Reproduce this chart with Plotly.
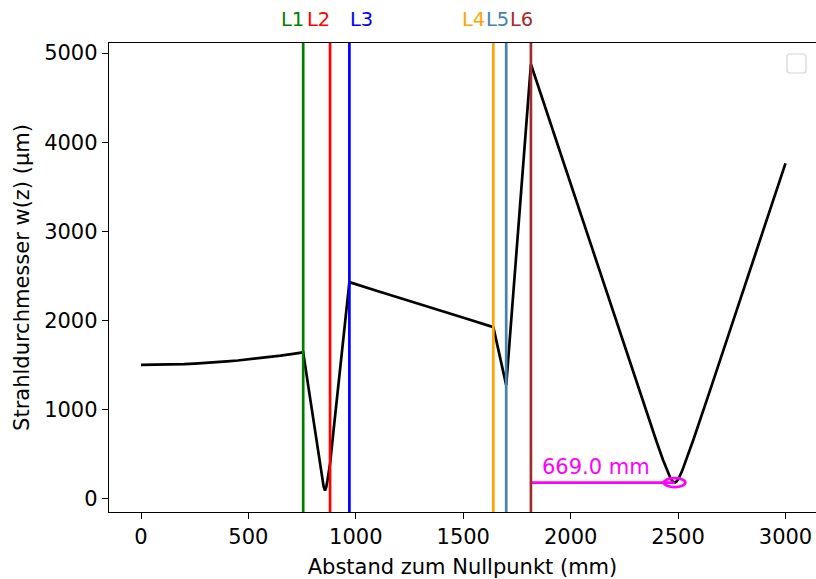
import plotly.graph_objects as go

# Beam diameter along the optical axis (z in mm, w in µm)
Z_MM = [0, 50, 100, 150, 200, 250, 300, 350, 400, 450, 500, 550, 600, 650, 700, 755,
        780, 800, 820, 835, 845, 850, 856.5, 862, 868, 875, 880,
        900, 925, 950, 970,
        1100, 1250, 1400, 1520, 1640,
        1670, 1700,
        1760, 1815,
        1950, 2100, 2250, 2350, 2400, 2430, 2450, 2465, 2475, 2484,
        2493, 2503, 2518, 2538, 2570, 2650, 2800, 2900, 3000]
W_UM = [1500, 1501, 1502, 1506, 1510, 1516, 1522, 1531, 1540, 1550, 1562, 1575, 1590, 1605, 1622, 1642,
        1240, 916, 598, 360, 207, 138, 90, 127, 207, 313, 392,
        850, 1420, 1985, 2430,
        2330, 2220, 2105, 2015, 1925,
        1600, 1274,
        3150, 4874,
        3896, 2804, 1715, 993, 638, 433, 306, 227, 192, 180,
        192, 227, 306, 433, 652, 1223, 2309, 3037, 3762]

LENS_NAMES = ["L1", "L2", "L3", "L4", "L5", "L6"]
LENS_POS = [755, 880, 970, 1640, 1700, 1815]
LENS_COLORS = ["green", "red", "blue", "orange", "steelblue", "brown"]
LABEL_SHIFT_PX = [-11, -11.5, 12.5, -19.5, -9, -9.5]

FOCUS_Z = 2484.0
FOCUS_W = 180.0
MARK_RADIUS = 50.0

X_TICKS = [0, 500, 1000, 1500, 2000, 2500, 3000]
Y_TICKS = [0, 1000, 2000, 3000, 4000, 5000]

W, H = 816, 579
L, R, T, B = 109, 0, 43, 67
FONT = "DejaVu Sans"
FS = 21
LW = 2.7

fig = go.Figure()

fig.add_trace(go.Scatter(x=Z_MM, y=W_UM, mode="lines",
                         line=dict(color="black", width=LW),
                         showlegend=False, hoverinfo="skip"))

# distance from last lens to the focus
fig.add_trace(go.Scatter(x=[LENS_POS[-1], FOCUS_Z], y=[FOCUS_W, FOCUS_W],
                         mode="lines", line=dict(color="magenta", width=LW),
                         showlegend=False, hoverinfo="skip"))

shapes = []
for pos, col in zip(LENS_POS, LENS_COLORS):
    shapes.append(dict(type="line", xref="x", yref="paper", x0=pos, x1=pos,
                       y0=0, y1=1, line=dict(color=col, width=LW), layer="above"))

shapes.append(dict(type="circle", xref="x", yref="y",
                   x0=FOCUS_Z - MARK_RADIUS, x1=FOCUS_Z + MARK_RADIUS,
                   y0=FOCUS_W - MARK_RADIUS, y1=FOCUS_W + MARK_RADIUS,
                   line=dict(color="magenta", width=LW), layer="above"))

# empty legend frame in the upper right corner
pw, ph = W - L - R, H - T - B


def px(xp):
    return (xp - L) / pw


def py(yp):
    return (H - B - yp) / ph


x0, x1, y0, y1, r = 787, 806, 54, 73, 3
path = (f"M {px(x0 + r)},{py(y0)} L {px(x1 - r)},{py(y0)} "
        f"Q {px(x1)},{py(y0)} {px(x1)},{py(y0 + r)} L {px(x1)},{py(y1 - r)} "
        f"Q {px(x1)},{py(y1)} {px(x1 - r)},{py(y1)} L {px(x0 + r)},{py(y1)} "
        f"Q {px(x0)},{py(y1)} {px(x0)},{py(y1 - r)} L {px(x0)},{py(y0 + r)} "
        f"Q {px(x0)},{py(y0)} {px(x0 + r)},{py(y0)} Z")
shapes.append(dict(type="path", xref="paper", yref="paper", path=path,
                   line=dict(color="#d6d6d6", width=1.2), fillcolor="white",
                   layer="above"))

annotations = []
for name, pos, col, sh in zip(LENS_NAMES, LENS_POS, LENS_COLORS, LABEL_SHIFT_PX):
    annotations.append(dict(x=pos, y=1, xref="x", yref="paper", text=name,
                            showarrow=False, xanchor="center", yanchor="middle",
                            xshift=sh, yshift=24,
                            font=dict(family=FONT, size=19.5, color=col)))

annotations.append(dict(x=(LENS_POS[-1] + FOCUS_Z) / 2, y=FOCUS_W, xref="x", yref="y",
                        text=f"{FOCUS_Z - LENS_POS[-1]:.1f} mm", showarrow=False,
                        xanchor="center", yanchor="middle", xshift=-7, yshift=16,
                        font=dict(family=FONT, size=FS, color="magenta")))

axis_common = dict(showgrid=False, zeroline=False, showline=True, linecolor="black",
                   linewidth=1.4, ticks="outside", ticklen=6, tickwidth=1.4,
                   tickcolor="black", tickfont=dict(family=FONT, size=FS, color="black"))

fig.update_layout(
    width=W, height=H, margin=dict(l=L, r=R, t=T, b=B),
    paper_bgcolor="white", plot_bgcolor="white",
    shapes=shapes, annotations=annotations, showlegend=False,
    xaxis=dict(range=[-149, 3142], tickvals=X_TICKS, mirror=True,
               title=dict(text="Abstand zum Nullpunkt (mm)",
                          font=dict(family=FONT, size=FS, color="black"), standoff=10),
               **axis_common),
    yaxis=dict(range=[-150, 5113], tickvals=Y_TICKS, mirror=False,
               title=dict(text="Strahldurchmesser w(z) (µm)",
                          font=dict(family=FONT, size=FS, color="black"), standoff=8),
               **axis_common),
)

fig.write_html("out.html")
